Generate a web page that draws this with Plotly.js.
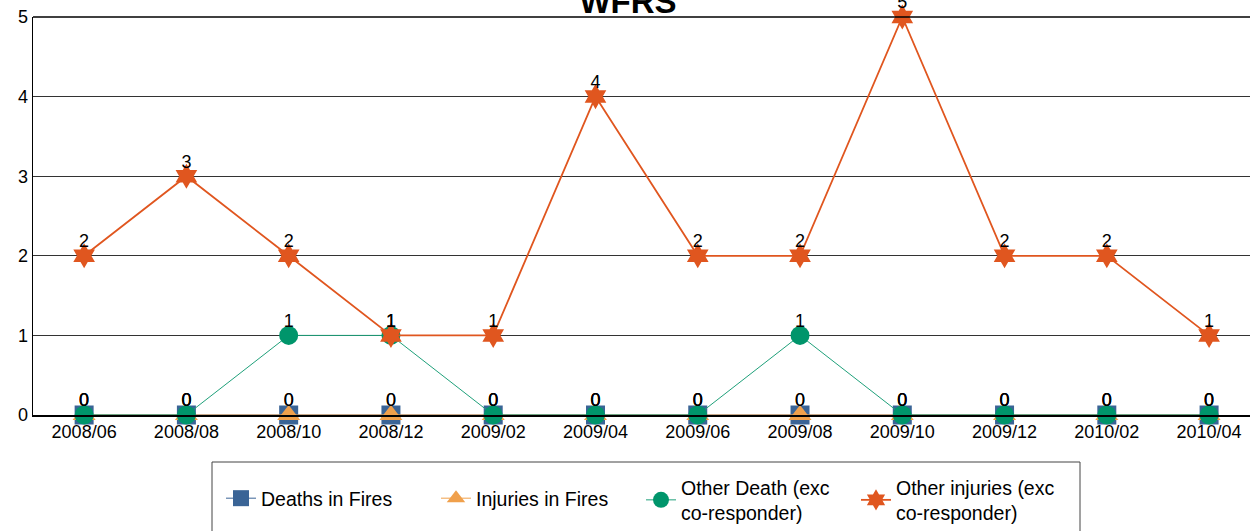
<!DOCTYPE html>
<html>
<head>
<meta charset="utf-8">
<script src="https://cdn.plot.ly/plotly-3.0.1.min.js"></script>
<style>html,body{margin:0;padding:0;background:#fff;}#chart{width:1250px;height:531px;}</style>
</head>
<body>
<div id="chart"></div>
<script>
const categories = ["2008/06","2008/08","2008/10","2008/12","2009/02","2009/04","2009/06","2009/08","2009/10","2009/12","2010/02","2010/04"];
const deathsInFires = [0,0,0,0,0,0,0,0,0,0,0,0];
const injuriesInFires = [0,0,0,0,0,0,0,0,0,0,0,0];
const otherDeath = [0,0,1,1,0,0,0,1,0,0,0,0];
const otherInjuries = [2,3,2,1,1,4,2,2,5,2,2,1];
const seriesNames = ["Deaths in Fires","Injuries in Fires","Other Death (exc<br>co-responder)","Other injuries (exc<br>co-responder)"];

const font = "Liberation Sans, Arial, sans-serif";
function tr(y, name, lineColor, lw, sym, mColor, size, legendId) {
  return {
    x: categories, y: y, name: name, type: 'scatter', mode: 'lines+markers',
    line: {color: lineColor, width: lw},
    marker: {symbol: sym, color: mColor, size: size, line: {width: 0}},
    cliponaxis: false, legend: legendId
  };
}
function labels(y) {
  return {
    x: categories, y: y, type: 'scatter', mode: 'markers+text', showlegend: false,
    marker: {size: 5, opacity: 0},
    text: y.map(String), textposition: 'top center',
    textfont: {family: font, size: 18, color: '#000'},
    cliponaxis: false, hoverinfo: 'skip'
  };
}
const allSeries = [deathsInFires, injuriesInFires, otherDeath, otherInjuries];
const data = [
  tr(deathsInFires, seriesNames[0], '#3A6496', 1, 'square', '#3A6496', 19, 'legend'),
  tr(injuriesInFires, seriesNames[1], '#F0A04B', 1, 'triangle-up', '#F0A04B', 20, 'legend'),
  tr(otherDeath, seriesNames[2], '#1FA07A', 1, 'circle', '#00956B', 19, 'legend2'),
  tr(otherInjuries, seriesNames[3], '#E0561F', 1.8, 'hexagram', '#E0561F', 19, 'legend2')
].concat(allSeries.map(labels));

const px = v => (v - 33) / 1217;
const py = v => (415 - v) / 398;
const legendBase = {orientation: 'h', xanchor: 'left', yanchor: 'top',
           borderwidth: 0, bgcolor: 'rgba(0,0,0,0)',
           entrywidth: 170, entrywidthmode: 'pixels', valign: 'middle',
           font: {family: font, size: 19.5, color: '#000'}, traceorder: 'normal'};
const layout = {
  width: 1250, height: 531,
  margin: {l: 33, r: 0, t: 17, b: 116, autoexpand: false},
  paper_bgcolor: '#fff', plot_bgcolor: '#fff',
  font: {family: font, size: 18, color: '#000'},
  title: {text: '<b>WFRS</b>', font: {family: font, size: 33, color: '#000'},
          x: 0.5024, xanchor: 'center', xref: 'container', y: 0.998, yanchor: 'middle', yref: 'container'},
  xaxis: {type: 'category', range: [-0.5, 11.4], showgrid: false, showline: true, linecolor: '#000', linewidth: 1.5,
          ticks: '', tickfont: {family: font, size: 18, color: '#000'}, zeroline: false},
  yaxis: {range: [0, 5], dtick: 1, showgrid: true, gridcolor: '#333', gridwidth: 1, showline: true, linecolor: '#000',
          linewidth: 1.5, ticks: '', tickfont: {family: font, size: 18, color: '#000'}, zeroline: false},
  shapes: [
    {type: 'line', xref: 'paper', yref: 'paper', x0: 0, x1: 1, y0: 1, y1: 1, line: {color: '#000', width: 1.5}},
    {type: 'rect', xref: 'paper', yref: 'paper', x0: px(212), x1: px(1080), y0: py(462), y1: py(560),
     line: {color: '#444', width: 1}, fillcolor: 'rgba(0,0,0,0)'}
  ],
  showlegend: true,
  legend: Object.assign({}, legendBase, {x: px(221), y: py(479)}),
  legend2: Object.assign({}, legendBase, {x: px(641), y: py(468)})
};
Plotly.newPlot('chart', data, layout, {displayModeBar: false, staticPlot: true});
</script>
</body>
</html>
